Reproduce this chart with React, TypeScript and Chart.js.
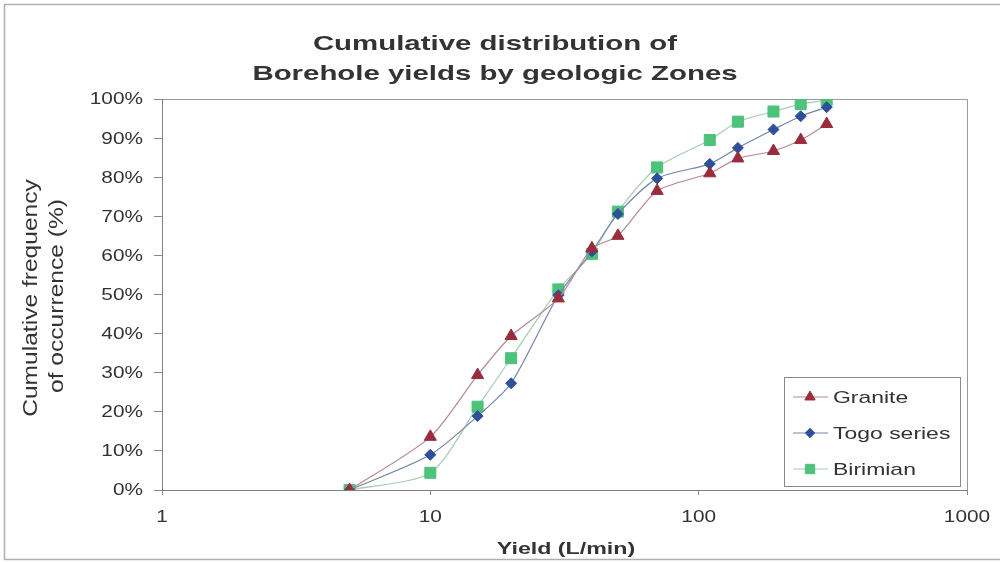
import React, { useEffect, useRef } from "react";
import { Chart, registerables } from "chart.js";
import { drawPoint } from "chart.js/helpers";

Chart.register(...registerables);

// ---------- data ----------
const yields = [5, 10, 15, 20, 30, 40, 50, 70, 110, 140, 190, 240, 300];
const granite = [0, 13.6, 29.4, 39.4, 49.0, 61.8, 65.0, 76.5, 81.0, 84.8, 86.7, 89.5, 93.6];
const togo = [0, 9.0, 18.9, 27.3, 49.8, 61.0, 70.6, 79.7, 83.4, 87.5, 92.2, 95.6, 97.9];
const birimian = [0, 4.4, 21.3, 33.7, 51.3, 60.4, 71.2, 82.5, 89.5, 94.2, 96.8, 98.7, 99.7];
const seriesNames = ["Granite", "Togo series", "Birimian"];
const xTickValues = [1, 10, 100, 1000];
const yTickValues = [0, 10, 20, 30, 40, 50, 60, 70, 80, 90, 100];
const titleLines = ["Cumulative distribution of", "Borehole yields by geologic Zones"];
const yTitleLines = ["Cumulative frequency", "of occurrence (%)"];
const xTitleText = "Yield (L/min)";

// ---------- styles ----------
const FONT = "'Liberation Sans', Arial, sans-serif";
const TEXT = "#333333";
const seriesStyles = [
  { line: "#b58892", point: "#9a2c3e", style: "triangle", radius: 7 },
  { line: "#7484a6", point: "#2f4f9c", style: "rectRot", radius: 5.5 },
  { line: "#a6ccb4", point: "#4cc27a", style: "rect", radius: 7.8 },
];
const seriesValues = [granite, togo, birimian];

function stretchText(
  ctx: CanvasRenderingContext2D,
  text: string,
  x: number,
  y: number,
  font: string,
  sx: number,
  align: CanvasTextAlign,
  baseline: CanvasTextBaseline,
  rotate = false
) {
  ctx.save();
  ctx.translate(x, y);
  if (rotate) ctx.rotate(-Math.PI / 2);
  ctx.scale(sx, 1);
  ctx.font = font;
  ctx.fillStyle = TEXT;
  ctx.textAlign = align;
  ctx.textBaseline = baseline;
  ctx.fillText(text, 0, 0);
  ctx.restore();
}

const decorPlugin = {
  id: "decor",
  beforeDraw(chart: any) {
    const ctx = chart.ctx as CanvasRenderingContext2D;
    ctx.save();
    ctx.fillStyle = "#ffffff";
    ctx.fillRect(0, 0, chart.width, chart.height);
    // outer frame
    ctx.strokeStyle = "#b0b0b0";
    ctx.lineWidth = 1.5;
    ctx.beginPath();
    ctx.moveTo(chart.width, 4.5);
    ctx.lineTo(4.5, 4.5);
    ctx.lineTo(4.5, 559.5);
    ctx.lineTo(chart.width, 559.5);
    ctx.stroke();
    // plot frame (top / right)
    const a = chart.chartArea;
    ctx.strokeStyle = "#9a9a9a";
    ctx.lineWidth = 1;
    ctx.beginPath();
    ctx.moveTo(Math.round(a.left) + 0.5, Math.round(a.top) + 0.5);
    ctx.lineTo(Math.round(a.right) + 0.5, Math.round(a.top) + 0.5);
    ctx.lineTo(Math.round(a.right) + 0.5, Math.round(a.bottom) + 0.5);
    ctx.stroke();
    ctx.restore();
  },
  afterDraw(chart: any) {
    const ctx = chart.ctx as CanvasRenderingContext2D;
    const a = chart.chartArea;
    const xs = chart.scales.x;
    const ys = chart.scales.y;

    // title
    stretchText(ctx, titleLines[0], 495, 50, `bold 21px ${FONT}`, 1.4, "center", "alphabetic");
    stretchText(ctx, titleLines[1], 495, 80, `bold 21px ${FONT}`, 1.4, "center", "alphabetic");

    // y title
    stretchText(ctx, yTitleLines[0], 37, 298, `21px ${FONT}`, 1.17, "center", "alphabetic", true);
    stretchText(ctx, yTitleLines[1], 63, 296, `21px ${FONT}`, 1.17, "center", "alphabetic", true);

    // y tick labels
    yTickValues.forEach((v) => {
      stretchText(ctx, `${v}%`, a.left - 19, ys.getPixelForValue(v) + 1, `16px ${FONT}`, 1.3, "right", "middle");
    });
    // x tick labels
    xTickValues.forEach((v) => {
      stretchText(ctx, `${v}`, xs.getPixelForValue(v), a.bottom + 28, `16px ${FONT}`, 1.3, "center", "middle");
    });
    // x title
    stretchText(ctx, xTitleText, 566, 554, `bold 16px ${FONT}`, 1.45, "center", "alphabetic");

    // legend
    const bx = Math.round(a.right) - 183;
    const by = Math.round(a.bottom) - 113;
    const bw = 176;
    const bh = 109;
    ctx.save();
    ctx.fillStyle = "#ffffff";
    ctx.fillRect(bx + 0.5, by + 0.5, bw, bh);
    ctx.strokeStyle = "#8a8a8a";
    ctx.lineWidth = 1;
    ctx.strokeRect(bx + 0.5, by + 0.5, bw, bh);
    seriesNames.forEach((name, i) => {
      const st = seriesStyles[i];
      const cy = by + 20 + i * 36;
      ctx.strokeStyle = st.line;
      ctx.lineWidth = 1.2;
      ctx.beginPath();
      ctx.moveTo(bx + 9, cy);
      ctx.lineTo(bx + 44, cy);
      ctx.stroke();
      ctx.fillStyle = st.point;
      ctx.strokeStyle = st.point;
      ctx.lineWidth = 1;
      drawPoint(ctx, { pointStyle: st.style, radius: st.radius * 0.85, rotation: 0, borderWidth: 1 } as any, bx + 26, cy);
      stretchText(ctx, name, bx + 49, cy + 1, `17px ${FONT}`, 1.35, "left", "middle");
    });
    ctx.restore();
  },
};

export default function App() {
  const ref = useRef<HTMLCanvasElement | null>(null);

  useEffect(() => {
    if (!ref.current) return;
    const datasets = seriesNames.map((name, i) => ({
      label: name,
      data: seriesValues[i].map((v, j) => ({ x: yields[j], y: v })),
      borderColor: seriesStyles[i].line,
      borderWidth: 1.2,
      backgroundColor: seriesStyles[i].point,
      pointStyle: seriesStyles[i].style,
      pointRadius: seriesStyles[i].radius,
      pointBackgroundColor: seriesStyles[i].point,
      pointBorderColor: seriesStyles[i].point,
      pointBorderWidth: 1,
      tension: 0.25,
      fill: false,
    }));
    const chart = new Chart(ref.current, {
      type: "line",
      data: { datasets },
      plugins: [decorPlugin],
      options: {
        animation: false,
        responsive: false,
        maintainAspectRatio: false,
        layout: { padding: { left: 142, right: 33, top: 99, bottom: 63 } },
        plugins: {
          legend: { display: false },
          title: { display: false },
          tooltip: { enabled: false },
        },
        scales: {
          x: {
            type: "logarithmic",
            min: 1,
            max: 1000,
            afterBuildTicks: (s: any) => {
              s.ticks = xTickValues.map((v) => ({ value: v, major: true }));
            },
            afterFit: (s: any) => {
              s.height = 10;
            },
            ticks: { display: false },
            grid: { display: true, drawOnChartArea: false, drawTicks: true, tickLength: 5, color: "#888888" },
            border: { display: true, color: "#808080", width: 1 },
          },
          y: {
            type: "linear",
            min: 0,
            max: 100,
            afterBuildTicks: (s: any) => {
              s.ticks = yTickValues.map((v) => ({ value: v }));
            },
            afterFit: (s: any) => {
              s.width = 20;
            },
            ticks: { display: false },
            grid: { display: true, drawOnChartArea: false, drawTicks: true, tickLength: 8, color: "#888888" },
            border: { display: true, color: "#808080", width: 1 },
          },
        },
      },
    });
    return () => chart.destroy();
  }, []);

  return (
    <div style={{ position: "fixed", left: 0, top: 0, width: 1000, height: 563, background: "#fff" }}>
      <canvas ref={ref} width={1000} height={563} style={{ display: "block", width: 1000, height: 563 }} />
    </div>
  );
}
